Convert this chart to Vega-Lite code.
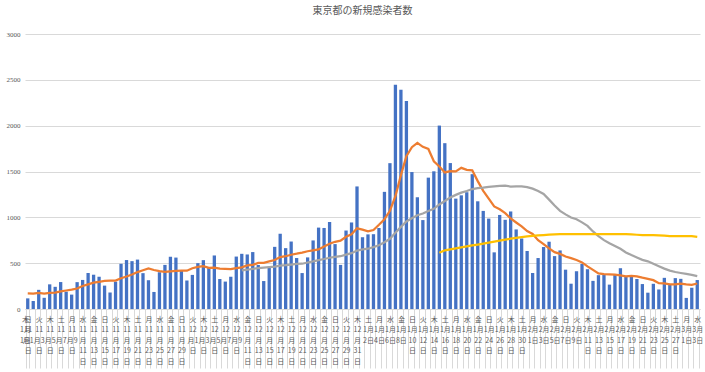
{
  "$schema": "https://vega.github.io/schema/vega-lite/v6.json",
  "width": 675,
  "height": 275,
  "autosize": "none",
  "padding": {"left": 25, "top": 34, "right": 5, "bottom": 63},
  "background": "white",
  "title": {"text": "東京都の新規感染者数", "fontSize": 10, "font": "Noto Sans CJK JP", "fontWeight": "normal", "color": "#595959", "anchor": "middle", "offset": 14},
  "config": {"view": {"stroke": null}},
  "data": {"values": [
    {"d":"2020-11-01","c":116,"a7":170.3},
    {"d":"2020-11-02","c":87,"a7":168.1},
    {"d":"2020-11-03","c":209,"a7":175.4},
    {"d":"2020-11-04","c":122,"a7":168.4},
    {"d":"2020-11-05","c":269,"a7":175.3},
    {"d":"2020-11-06","c":242,"a7":179.1},
    {"d":"2020-11-07","c":294,"a7":191.3},
    {"d":"2020-11-08","c":189,"a7":201.7},
    {"d":"2020-11-09","c":157,"a7":211.7},
    {"d":"2020-11-10","c":293,"a7":223.7},
    {"d":"2020-11-11","c":317,"a7":251.6},
    {"d":"2020-11-12","c":393,"a7":269.3},
    {"d":"2020-11-13","c":374,"a7":288.1},
    {"d":"2020-11-14","c":352,"a7":296.4},
    {"d":"2020-11-15","c":255,"a7":305.9},
    {"d":"2020-11-16","c":180,"a7":309.1},
    {"d":"2020-11-17","c":298,"a7":309.9},
    {"d":"2020-11-18","c":493,"a7":335.0},
    {"d":"2020-11-19","c":534,"a7":355.1},
    {"d":"2020-11-20","c":522,"a7":376.3},
    {"d":"2020-11-21","c":539,"a7":403.0},
    {"d":"2020-11-22","c":391,"a7":422.4},
    {"d":"2020-11-23","c":314,"a7":441.6},
    {"d":"2020-11-24","c":186,"a7":425.6},
    {"d":"2020-11-25","c":401,"a7":412.4},
    {"d":"2020-11-26","c":481,"a7":404.9},
    {"d":"2020-11-27","c":570,"a7":411.7},
    {"d":"2020-11-28","c":561,"a7":414.9},
    {"d":"2020-11-29","c":418,"a7":418.7},
    {"d":"2020-11-30","c":311,"a7":418.3},
    {"d":"2020-12-01","c":372,"a7":444.9},
    {"d":"2020-12-02","c":500,"a7":459.0},
    {"d":"2020-12-03","c":533,"a7":466.4},
    {"d":"2020-12-04","c":449,"a7":449.1},
    {"d":"2020-12-05","c":584,"a7":452.4},
    {"d":"2020-12-06","c":327,"a7":439.4},
    {"d":"2020-12-07","c":299,"a7":437.7},
    {"d":"2020-12-08","c":352,"a7":434.9},
    {"d":"2020-12-09","c":572,"a7":445.1},
    {"d":"2020-12-10","c":602,"a7":455.0,"a28":420.4},
    {"d":"2020-12-11","c":595,"a7":475.9,"a28":428.3},
    {"d":"2020-12-12","c":621,"a7":481.1,"a28":437.9},
    {"d":"2020-12-13","c":480,"a7":503.0,"a28":445.9},
    {"d":"2020-12-14","c":305,"a7":503.9,"a28":450.4},
    {"d":"2020-12-15","c":460,"a7":519.3,"a28":456.1},
    {"d":"2020-12-16","c":678,"a7":534.4,"a28":462.8},
    {"d":"2020-12-17","c":822,"a7":565.9,"a28":473.0},
    {"d":"2020-12-18","c":664,"a7":575.7,"a28":478.1},
    {"d":"2020-12-19","c":736,"a7":592.1,"a28":485.1},
    {"d":"2020-12-20","c":556,"a7":603.0,"a28":491.0},
    {"d":"2020-12-21","c":392,"a7":615.4,"a28":493.8},
    {"d":"2020-12-22","c":563,"a7":630.1,"a28":507.3},
    {"d":"2020-12-23","c":748,"a7":640.1,"a28":519.7},
    {"d":"2020-12-24","c":888,"a7":649.6,"a28":534.2},
    {"d":"2020-12-25","c":884,"a7":681.0,"a28":545.4},
    {"d":"2020-12-26","c":949,"a7":711.4,"a28":559.3},
    {"d":"2020-12-27","c":708,"a7":733.1,"a28":569.6},
    {"d":"2020-12-28","c":481,"a7":745.9,"a28":575.7},
    {"d":"2020-12-29","c":856,"a7":787.7,"a28":593.0},
    {"d":"2020-12-30","c":944,"a7":815.7,"a28":608.9},
    {"d":"2020-12-31","c":1337,"a7":879.9,"a28":637.6},
    {"d":"2021-01-01","c":783,"a7":865.4,"a28":649.5},
    {"d":"2021-01-02","c":814,"a7":846.1,"a28":657.7},
    {"d":"2021-01-03","c":816,"a7":861.6,"a28":675.2},
    {"d":"2021-01-04","c":884,"a7":919.1,"a28":696.1},
    {"d":"2021-01-05","c":1278,"a7":979.4,"a28":729.1},
    {"d":"2021-01-06","c":1591,"a7":1071.9,"a28":765.5},
    {"d":"2021-01-07","c":2447,"a7":1230.4,"a28":831.4},
    {"d":"2021-01-08","c":2392,"a7":1460.3,"a28":895.6},
    {"d":"2021-01-09","c":2268,"a7":1668.0,"a28":954.4},
    {"d":"2021-01-10","c":1494,"a7":1764.9,"a28":990.6},
    {"d":"2021-01-11","c":1219,"a7":1812.7,"a28":1023.3},
    {"d":"2021-01-12","c":970,"a7":1768.7,"a28":1041.5},
    {"d":"2021-01-13","c":1433,"a7":1746.1,"a28":1068.5},
    {"d":"2021-01-14","c":1502,"a7":1611.1,"a28":1092.8},
    {"d":"2021-01-15","c":2001,"a7":1555.3,"a28":1140.5,"y":613},
    {"d":"2021-01-16","c":1809,"a7":1489.7,"a28":1178.8,"y":640},
    {"d":"2021-01-17","c":1592,"a7":1503.7,"a28":1215.8,"y":650},
    {"d":"2021-01-18","c":1204,"a7":1501.6,"a28":1244.8,"y":661},
    {"d":"2021-01-19","c":1240,"a7":1540.1,"a28":1269.0,"y":672},
    {"d":"2021-01-20","c":1274,"a7":1517.4,"a28":1287.8,"y":682},
    {"d":"2021-01-21","c":1471,"a7":1513.0,"a28":1308.6,"y":693},
    {"d":"2021-01-22","c":1175,"a7":1395.0,"a28":1319.0,"y":703},
    {"d":"2021-01-23","c":1070,"a7":1289.4,"a28":1323.3,"y":714},
    {"d":"2021-01-24","c":986,"a7":1202.9,"a28":1333.3,"y":725},
    {"d":"2021-01-25","c":618,"a7":1119.1,"a28":1338.1,"y":735},
    {"d":"2021-01-26","c":1026,"a7":1088.6,"a28":1344.2,"y":746},
    {"d":"2021-01-27","c":973,"a7":1045.6,"a28":1345.3,"y":756},
    {"d":"2021-01-28","c":1064,"a7":987.4,"a28":1335.5,"y":767},
    {"d":"2021-01-29","c":868,"a7":943.6,"a28":1338.5,"y":776},
    {"d":"2021-01-30","c":769,"a7":900.6,"a28":1336.9,"y":785},
    {"d":"2021-01-31","c":633,"a7":850.1,"a28":1330.4,"y":792},
    {"d":"2021-02-01","c":393,"a7":818.0,"a28":1312.9,"y":797},
    {"d":"2021-02-02","c":556,"a7":750.9,"a28":1287.1,"y":802},
    {"d":"2021-02-03","c":676,"a7":708.4,"a28":1254.4,"y":807},
    {"d":"2021-02-04","c":734,"a7":661.3,"a28":1193.2,"y":811},
    {"d":"2021-02-05","c":577,"a7":619.7,"a28":1128.4,"y":815},
    {"d":"2021-02-06","c":639,"a7":601.1,"a28":1070.2,"y":817},
    {"d":"2021-02-07","c":429,"a7":572.0,"a28":1032.2,"y":817},
    {"d":"2021-02-08","c":276,"a7":555.3,"a28":998.5,"y":817},
    {"d":"2021-02-09","c":412,"a7":534.7,"a28":978.6,"y":817},
    {"d":"2021-02-10","c":491,"a7":508.3,"a28":944.9,"y":817},
    {"d":"2021-02-11","c":434,"a7":465.4,"a28":906.8,"y":817},
    {"d":"2021-02-12","c":307,"a7":426.9,"a28":846.3,"y":817},
    {"d":"2021-02-13","c":369,"a7":388.3,"a28":794.9,"y":817},
    {"d":"2021-02-14","c":371,"a7":380.0,"a28":751.3,"y":817},
    {"d":"2021-02-15","c":266,"a7":378.6,"a28":717.8,"y":817},
    {"d":"2021-02-16","c":378,"a7":373.7,"a28":687.0,"y":817},
    {"d":"2021-02-17","c":445,"a7":367.1,"a28":657.4,"y":817},
    {"d":"2021-02-18","c":353,"a7":355.6,"a28":617.4,"y":817},
    {"d":"2021-02-19","c":353,"a7":362.1,"a28":588.1,"y":815},
    {"d":"2021-02-20","c":327,"a7":356.1,"a28":561.5,"y":810},
    {"d":"2021-02-21","c":272,"a7":342.0,"a28":536.0,"y":806},
    {"d":"2021-02-22","c":178,"a7":329.4,"a28":520.3,"y":806},
    {"d":"2021-02-23","c":275,"a7":314.7,"a28":493.5,"y":806},
    {"d":"2021-02-24","c":213,"a7":281.6,"a28":466.4,"y":804},
    {"d":"2021-02-25","c":340,"a7":279.7,"a28":440.5,"y":800},
    {"d":"2021-02-26","c":270,"a7":267.9,"a28":419.1,"y":796},
    {"d":"2021-02-27","c":337,"a7":269.3,"a28":403.7,"y":796},
    {"d":"2021-02-28","c":329,"a7":277.4,"a28":392.9,"y":796},
    {"d":"2021-03-01","c":121,"a7":269.3,"a28":383.1,"y":795},
    {"d":"2021-03-02","c":232,"a7":263.1,"a28":371.6,"y":794},
    {"d":"2021-03-03","c":316,"a7":277.9,"a28":358.7,"y":786}
  ]},
  "encoding": {
    "x": {
      "field": "d",
      "type": "ordinal",
      "scale": {"paddingInner": 0.4, "paddingOuter": 0.2},
      "axis": {
        "title": null,
        "domain": true,
        "domainColor": "#d9d9d9",
        "ticks": true,
        "tickBand": "extent",
        "tickSize": 59,
        "tickColor": "#d9d9d9",
        "labelPadding": -53,
        "labelAngle": 0,
        "labelOverlap": false,
        "labelBound": false,
        "labelFlush": false,
        "labelBaseline": "top",
        "labelLineHeight": 10.5,
        "labelFontSize": 7,
        "labelFont": "Noto Sans CJK JP",
        "labelColor": "#595959",
        "labelExpr": "round((toDate(datum.value)-toDate('2020-11-01'))/86400000)%2==1 ? '' : (utcmonth(toDate(datum.value))>=9 ? (utcdate(toDate(datum.value))<10 ? [['日','月','火','水','木','金','土'][utcday(toDate(datum.value))], ''+(utcmonth(toDate(datum.value))+1), '月'+utcdate(toDate(datum.value)), '日'] : [['日','月','火','水','木','金','土'][utcday(toDate(datum.value))], ''+(utcmonth(toDate(datum.value))+1), '月', ''+utcdate(toDate(datum.value)), '日']) : (utcdate(toDate(datum.value))<10 ? [['日','月','火','水','木','金','土'][utcday(toDate(datum.value))], (utcmonth(toDate(datum.value))+1)+'月', utcdate(toDate(datum.value))+'日'] : [['日','月','火','水','木','金','土'][utcday(toDate(datum.value))], (utcmonth(toDate(datum.value))+1)+'月', ''+utcdate(toDate(datum.value)), '日']))"
      }
    }
  },
  "layer": [
    {
      "mark": {"type": "bar", "color": "#4472C4"},
      "encoding": {
        "y": {
          "field": "c",
          "type": "quantitative",
          "scale": {"domain": [0, 3000]},
          "axis": {
            "title": null,
            "values": [0, 500, 1000, 1500, 2000, 2500, 3000],
            "format": "d",
            "grid": true,
            "gridColor": "#d9d9d9",
            "domain": false,
            "ticks": false,
            "labelPadding": 5,
            "labelFontSize": 7,
            "labelFont": "Liberation Sans Narrow",
            "labelColor": "#595959"
          }
        }
      }
    },
    {
      "mark": {"type": "line", "color": "#ED7D31", "strokeWidth": 2.25},
      "encoding": {"y": {"field": "a7", "type": "quantitative"}}
    },
    {
      "mark": {"type": "line", "color": "#A5A5A5", "strokeWidth": 2.25},
      "encoding": {"y": {"field": "a28", "type": "quantitative"}}
    },
    {
      "mark": {"type": "line", "color": "#FFC000", "strokeWidth": 2.25},
      "encoding": {"y": {"field": "y", "type": "quantitative"}}
    }
  ]
}
